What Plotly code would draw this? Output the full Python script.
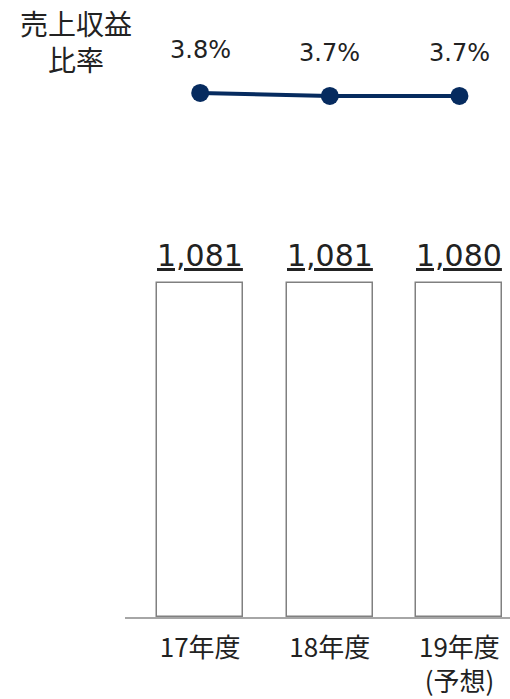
import plotly.graph_objects as go

categories = ["17年度", "18年度", "19年度<br>(予想)"]
revenue = [1081, 1081, 1080]
revenue_labels = ["1,081", "1,081", "1,080"]
ratio = [3.8, 3.7, 3.7]
ratio_labels = ["3.8%", "3.7%", "3.7%"]

xpos = list(range(len(categories)))
FONT = "DejaVu Sans, Noto Sans CJK JP, sans-serif"
TXT = "#222222"

fig = go.Figure()
fig.add_trace(go.Bar(
    x=xpos, y=revenue, width=0.664,
    marker=dict(color="white", line=dict(color="#808080", width=1.5)),
    yaxis="y", showlegend=False, hoverinfo="skip",
))
fig.add_trace(go.Scatter(
    x=xpos, y=ratio, mode="lines+markers",
    line=dict(color="#062B5F", width=4),
    marker=dict(color="#062B5F", size=18),
    yaxis="y2", showlegend=False, hoverinfo="skip",
))

for i, (v, t) in enumerate(zip(revenue, revenue_labels)):
    fig.add_annotation(x=i, y=v, xref="x", yref="y", text=f"<u>{t}</u>",
                       showarrow=False, yshift=28, yanchor="middle",
                       font=dict(family=FONT, size=30, color=TXT))
for i, (v, t) in enumerate(zip(ratio, ratio_labels)):
    fig.add_annotation(x=i, y=v, xref="x", yref="y2", text=t,
                       showarrow=False, yshift=43, yanchor="middle",
                       font=dict(family=FONT, size=24, color=TXT))

fig.add_annotation(x=(76 - 125) / 385, y=(617 - 41) / 617, xref="paper", yref="paper",
                   text="売上収益<br>比率",
                   showarrow=False, align="center", xanchor="center", yanchor="middle",
                   font=dict(family="Noto Sans CJK JP", size=28, color=TXT))

fig.update_layout(
    width=510, height=699,
    margin=dict(l=125, r=0, t=0, b=82, autoexpand=False),
    plot_bgcolor="white", paper_bgcolor="white",
    bargap=0,
    xaxis=dict(range=[-0.58, 2.39], tickvals=xpos, ticktext=categories,
               showgrid=False, zeroline=False, showline=True,
               linecolor="#A6A6A6", linewidth=2, ticks="", automargin=False,
               tickfont=dict(family="Noto Sans CJK JP", size=26, color=TXT),
               ticklabelstandoff=7),
    yaxis=dict(range=[0, 1997], visible=False),
    yaxis2=dict(range=[-13.67, 6.9], overlaying="y", visible=False),
)

fig.write_html("out.html", config={"displayModeBar": False},
               post_script="document.body.style.margin='0';document.body.style.overflow='hidden';")
